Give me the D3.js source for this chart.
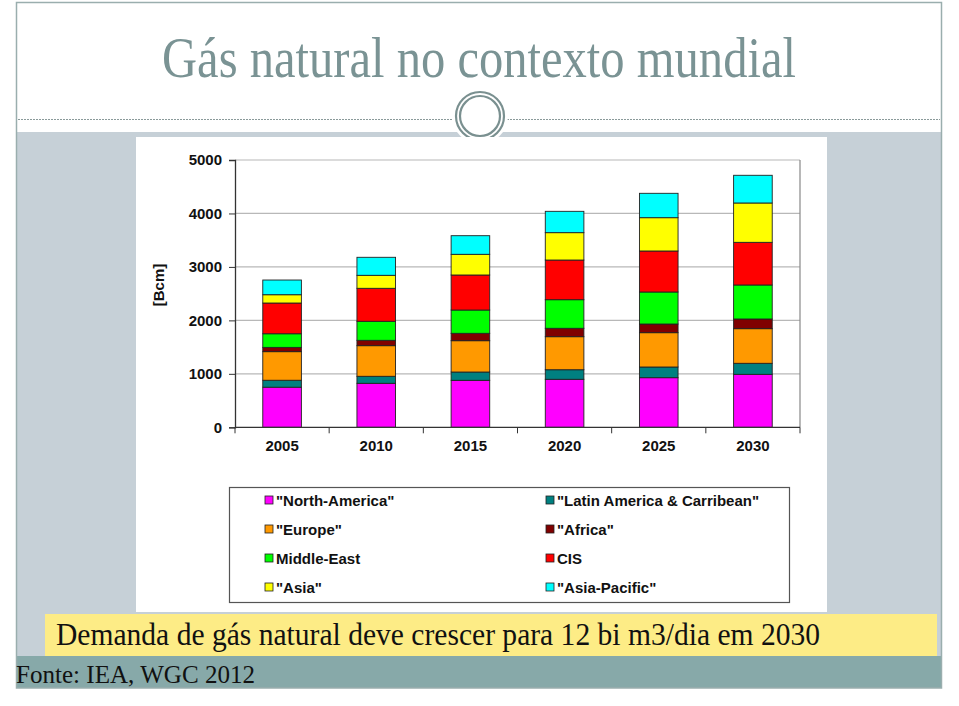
<!DOCTYPE html>
<html><head><meta charset="utf-8">
<script src="https://cdn.jsdelivr.net/npm/d3@7"></script>
<style>body{margin:0;background:#fff}svg{display:block}</style>
</head><body>
<script>
const years = ["2005","2010","2015","2020","2025","2030"];
const seriesNames = ["\"North-America\"","\"Latin America & Carribean\"","\"Europe\"","\"Africa\"","Middle-East","CIS","\"Asia\"","\"Asia-Pacific\""];
const seriesKeys = ["na","la","eu","af","me","cis","asia","ap"];
const colors = ["#ff00ff","#008080","#ff9900","#800000","#00ff00","#ff0000","#ffff00","#00ffff"];
const northAmerica = [750, 823, 879, 898, 928, 991];
const latinAmerica = [130, 131, 155, 179, 200, 206];
const europe = [535, 573, 586, 618, 642, 648];
const africa = [80, 100, 138, 157, 162, 181];
const middleEast = [255, 356, 436, 535, 599, 636];
const cis = [575, 617, 655, 742, 767, 798];
const asia = [155, 243, 387, 512, 623, 736];
const asiaPacific = [275, 337, 348, 399, 456, 518];
const yTicks = [0,1000,2000,3000,4000,5000];
const legendOrder = [0,1,2,3,4,5,6,7];

const W=959,H=706;
const svg=d3.select("body").append("svg").attr("width",W).attr("height",H);
const SANS="Liberation Sans, Arial, sans-serif";
const SERIF="Liberation Serif, DejaVu Serif, serif";

// slide background
svg.append("rect").attr("x",16).attr("y",132).attr("width",926).attr("height",524).attr("fill","#c6d0d7");
svg.append("rect").attr("x",16).attr("y",656).attr("width",926).attr("height",32).attr("fill","#87a9a9");
svg.append("rect").attr("x",16.5).attr("y",2.5).attr("width",925).attr("height",685.5).attr("fill","none").attr("stroke","#9aaeae").attr("stroke-width",1.5);
svg.append("line").attr("x1",18).attr("x2",940).attr("y1",119.5).attr("y2",119.5).attr("stroke","#8a9a9a").attr("stroke-dasharray","2,1");
// title
svg.append("text").attr("x",162).attr("y",77).attr("textLength",634).attr("lengthAdjust","spacingAndGlyphs")
  .attr("font-family",SERIF).attr("font-size",56).attr("fill","#7a9394").text("Gás natural no contexto mundial");
// circle ornament
svg.append("path").attr("d","M446,132 L452,124 A30,30 0 0 1 508,124 L514,132 Z").attr("fill","#fff");
svg.append("circle").attr("cx",480).attr("cy",116).attr("r",28).attr("fill","#fff");
svg.append("circle").attr("cx",480).attr("cy",116).attr("r",24).attr("fill","none").attr("stroke","#7a9090").attr("stroke-width",2.2);
svg.append("circle").attr("cx",480).attr("cy",116).attr("r",20).attr("fill","#fff").attr("stroke","#7a9090").attr("stroke-width",2.2);

// chart panel
svg.append("rect").attr("x",136).attr("y",137).attr("width",691).attr("height",475).attr("fill","#fff");

const m={l:235,r:800,t:160,b:427.3};
const x=d3.scaleBand().domain(years).range([m.l,m.r]).paddingInner(0.59).paddingOuter(0.295);
const y=d3.scaleLinear().domain([0,5000]).range([m.b,m.t]);

const g=svg.append("g");
g.selectAll(".grid").data(yTicks.filter(d=>d>0)).join("line")
  .attr("x1",m.l).attr("x2",m.r).attr("y1",d=>y(d)).attr("y2",d=>y(d)).attr("stroke","#b8b8b8").attr("stroke-width",1.2);
g.append("line").attr("x1",m.r).attr("x2",m.r).attr("y1",m.t).attr("y2",m.b).attr("stroke","#888").attr("stroke-width",1.2);

const rows=years.map((yr,i)=>({year:yr,na:northAmerica[i],la:latinAmerica[i],eu:europe[i],af:africa[i],me:middleEast[i],cis:cis[i],asia:asia[i],ap:asiaPacific[i]}));
const stack=d3.stack().keys(seriesKeys)(rows);
g.selectAll(".s").data(stack).join("g").attr("fill",(d,i)=>colors[i])
  .selectAll("rect").data(d=>d).join("rect")
  .attr("x",d=>x(d.data.year)).attr("width",x.bandwidth())
  .attr("y",d=>y(d[1])).attr("height",d=>y(d[0])-y(d[1]))
  .attr("stroke","#222").attr("stroke-width",0.9);

const yAxis=d3.axisLeft(y).tickValues(yTicks).tickFormat(d3.format("d")).tickSize(6).tickPadding(7);
const ya=svg.append("g").attr("transform",`translate(${m.l},0)`).call(yAxis);
ya.select(".domain").attr("stroke","#333").attr("stroke-width",1.3);
ya.selectAll(".tick line").attr("stroke","#333");
ya.selectAll("text").attr("font-family",SANS).attr("font-weight","bold").attr("font-size",15).attr("fill","#111");

const xa=svg.append("g").attr("transform",`translate(0,${m.b})`);
xa.append("line").attr("x1",m.l).attr("x2",m.r).attr("stroke","#333").attr("stroke-width",1.3);
const bounds=d3.range(years.length+1).map(i=>m.l+i*(m.r-m.l)/years.length);
xa.selectAll(".xt").data(bounds).join("line").attr("x1",d=>d).attr("x2",d=>d).attr("y1",0).attr("y2",6).attr("stroke","#333");
xa.selectAll(".xl").data(years).join("text").attr("x",d=>x(d)+x.bandwidth()/2).attr("y",23.5).attr("text-anchor","middle")
  .attr("font-family",SANS).attr("font-weight","bold").attr("font-size",15).attr("fill","#111").text(d=>d);

svg.append("text").attr("transform","translate(164,285) rotate(-90)").attr("text-anchor","middle")
  .attr("font-family",SANS).attr("font-weight","bold").attr("font-size",15).attr("fill","#111").text("[Bcm]");

// legend
svg.append("rect").attr("x",229.5).attr("y",487.5).attr("width",560).attr("height",115).attr("fill","#fff").attr("stroke","#555").attr("stroke-width",1.2);
const lg=svg.selectAll(".lg").data(legendOrder).join("g")
  .attr("transform",(d,i)=>`translate(${i%2===0?265:546},${500+Math.floor(i/2)*29})`);
lg.append("rect").attr("x",0).attr("y",-4).attr("width",8).attr("height",8).attr("fill",d=>colors[d]).attr("stroke","#222").attr("stroke-width",0.8);
lg.append("text").attr("x",11).attr("y",5.5).attr("font-family",SANS).attr("font-weight","bold").attr("font-size",15).attr("fill","#111").text(d=>seriesNames[d]);

// yellow callout
svg.append("rect").attr("x",45).attr("y",614).attr("width",892).attr("height",42).attr("fill","#fdec86");
svg.append("text").attr("x",56).attr("y",645).attr("textLength",764).attr("lengthAdjust","spacingAndGlyphs")
  .attr("font-family",SERIF).attr("font-size",31).attr("fill","#111").text("Demanda de gás natural deve crescer para 12 bi m3/dia em 2030");
svg.append("text").attr("x",16).attr("y",683).attr("textLength",239).attr("lengthAdjust","spacingAndGlyphs")
  .attr("font-family",SERIF).attr("font-size",26).attr("fill","#111").text("Fonte: IEA, WGC 2012");
</script>
</body></html>
